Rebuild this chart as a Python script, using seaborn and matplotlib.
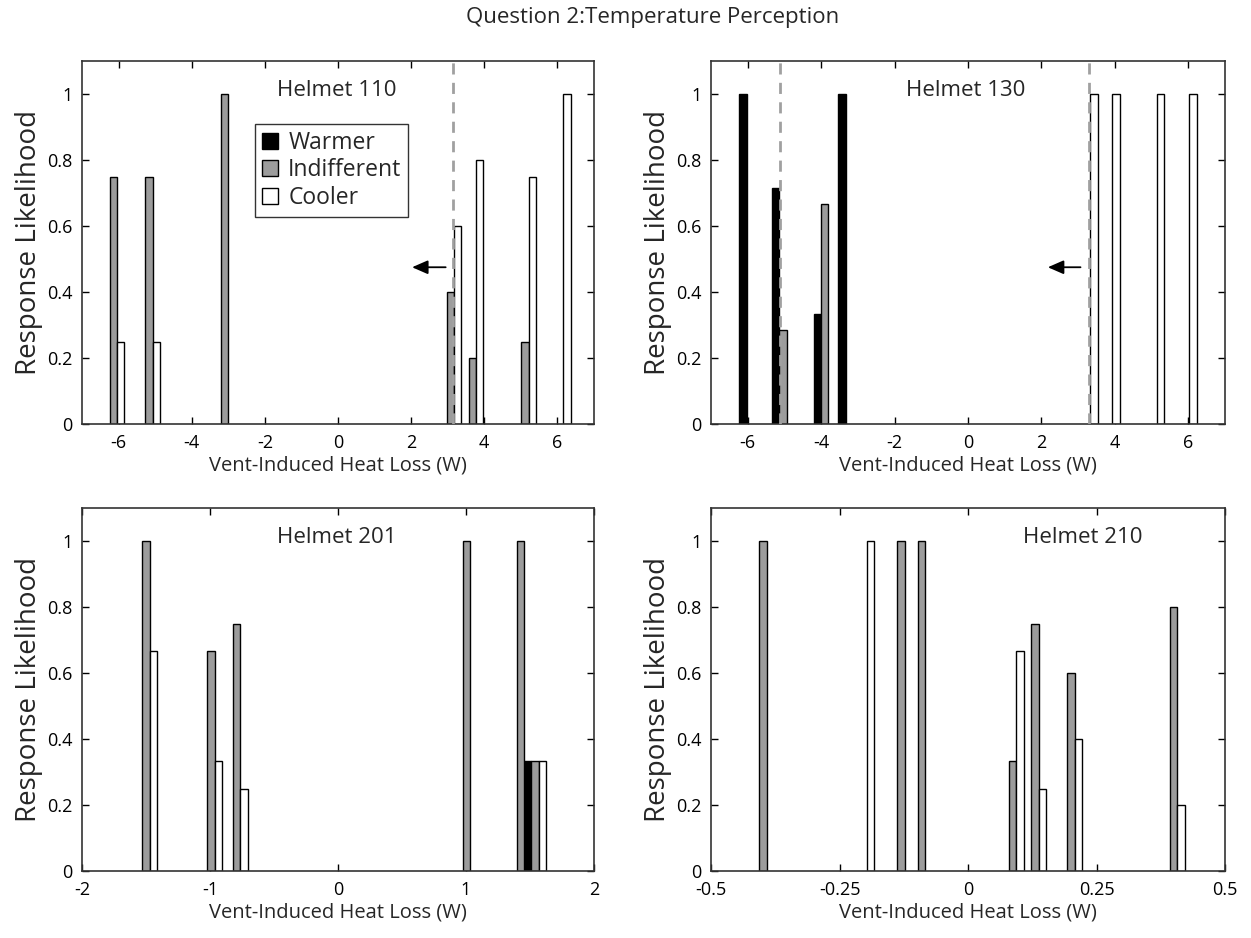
import numpy as np
import matplotlib
matplotlib.use("Agg")
import matplotlib.pyplot as plt
import matplotlib.transforms as mtransforms
from matplotlib.patches import Patch
import seaborn as sns

# ---------------- data ----------------
responses = ["Warmer", "Indifferent", "Cooler"]

x110 = [-6.14, -5.17, -3.11, 3.07, 3.67, 5.11, 6.06]
warm110 = [0, 0, 0, 0, 0, 0, 0]
indiff110 = [0.75, 0.75, 1.0, 0.4, 0.2, 0.25, 0]
cool110 = [0.25, 0.25, 0, 0.6, 0.8, 0.75, 1.0]

x130 = [-5.93, -5.04, -3.90, -3.23, 3.23, 3.83, 5.05, 5.93]
warm130 = [1.0, 0.714, 0.333, 1.0, 0, 0, 0, 0]
indiff130 = [0, 0.286, 0.667, 0, 0, 0, 0, 0]
cool130 = [0, 0, 0, 0, 1.0, 1.0, 1.0, 1.0]

x201 = [-1.50, -0.993, -0.794, 1.003, 1.424, 1.538]
warm201 = [0, 0, 0, 0, 0, 0.333]
indiff201 = [1.0, 0.667, 0.75, 1.0, 1.0, 0.333]
cool201 = [0.667, 0.333, 0.25, 0, 0, 0.333]

x210 = [-0.399, -0.204, -0.130, -0.090, 0.087, 0.130, 0.200, 0.400]
warm210 = [0, 0, 0, 0, 0, 0, 0, 0]
indiff210 = [1.0, 0, 1.0, 1.0, 0.333, 0.75, 0.6, 0.8]
cool210 = [0, 1.0, 0, 0, 0.667, 0.25, 0.4, 0.2]

titles = ["Helmet 110", "Helmet 130", "Helmet 201", "Helmet 210"]
thresholds = [[3.15], [-5.11, 3.3], [], []]
arrow_from = [3.02, 3.14, None, None]
arrow_to = [1.95, 2.1, None, None]

xticks_top = [-6, -4, -2, 0, 2, 4, 6]
xticklabels_top = ["-6", "-4", "-2", "0", "2", "4", "6"]
xticks_201 = [-2, -1, 0, 1, 2]
xticklabels_201 = ["-2", "-1", "0", "1", "2"]
xticks_210 = [-0.5, -0.25, 0, 0.25, 0.5]
xticklabels_210 = ["-0.5", "-0.25", "0", "0.25", "0.5"]
yticks = [0, 0.2, 0.4, 0.6, 0.8, 1.0]
yticklabels = ["0", "0.2", "0.4", "0.6", "0.8", "1"]

# ---------------- style ----------------
sns.set_theme(style="ticks")
plt.rcParams["font.family"] = ["Open Sans", "DejaVu Sans"]
plt.rcParams["axes.unicode_minus"] = False

colors = {"Warmer": "#000000", "Indifferent": "#9c9c9c", "Cooler": "#ffffff"}

fig = plt.figure(figsize=(12.51, 9.38), dpi=100)
W, H = 1251, 938


def make_ax(l, r, t, b):
    return fig.add_axes([l / W, 1 - b / H, (r - l) / W, (b - t) / H])


axes = [
    make_ax(82, 594, 61, 424),
    make_ax(711, 1225, 61, 424),
    make_ax(82, 594, 508, 871),
    make_ax(711, 1225, 508, 871),
]

panels = [
    (x110, warm110, indiff110, cool110, 0.2, (-7, 7), xticks_top, xticklabels_top, 0.38),
    (x130, warm130, indiff130, cool130, 0.2, (-7, 7), xticks_top, xticklabels_top, 0.38),
    (x201, warm201, indiff201, cool201, 0.058, (-2, 2), xticks_201, xticklabels_201, 0.38),
    (x210, warm210, indiff210, cool210, 0.0144, (-0.5, 0.5), xticks_210, xticklabels_210, 0.607),
]

for i, (ax, p) in enumerate(zip(axes, panels)):
    xs, wv, iv, cv, w, xlim, xt, xtl, tx = p
    xs = np.asarray(xs)
    series = {"Warmer": wv, "Indifferent": iv, "Cooler": cv}
    offsets = {"Warmer": -w, "Indifferent": 0.0, "Cooler": w}
    for r in responses:
        vals = np.asarray(series[r], dtype=float)
        m = vals > 0
        ax.bar(xs[m] + offsets[r], vals[m], width=w, color=colors[r],
               edgecolor="black", linewidth=1.0, label=r, zorder=2)
    for th in thresholds[i]:
        ax.axvline(th, color="#a0a0a0", linestyle=(0, (4, 3)), linewidth=2, zorder=3)
    if arrow_from[i] is not None:
        ax.annotate("", xy=(arrow_to[i], 0.475), xytext=(arrow_from[i], 0.475),
                    arrowprops=dict(arrowstyle="-|>,head_length=0.8,head_width=0.35",
                                    color="black", lw=1.3), zorder=4)
    ax.set_xlim(*xlim)
    ax.set_ylim(0, 1.1)
    ax.set_xticks(xt)
    ax.set_xticklabels(xtl)
    ax.set_yticks(yticks)
    ax.set_yticklabels(yticklabels)
    ax.tick_params(direction="in", top=True, right=True, length=5, width=1,
                   labelsize=13, colors="black", pad=7)
    for s in ax.spines.values():
        s.set_color("#333333")
        s.set_linewidth(1.2)
    ax.set_xlabel("Vent-Induced Heat Loss (W)", fontsize=14.5, labelpad=3)
    ax.set_ylabel("Response Likelihood", fontsize=20, labelpad=3)
    trans = mtransforms.blended_transform_factory(ax.transAxes, ax.transData)
    ax.text(tx, 1.012, titles[i], transform=trans, fontsize=16, ha="left", va="center")
    ax.grid(False)

handles = [Patch(facecolor=colors[r], edgecolor="black", linewidth=1.0) for r in responses]
leg = axes[0].legend(handles, responses, loc="upper left",
                     bbox_to_anchor=((255 - 82) / 512, (424 - 124) / 363),
                     frameon=True, fancybox=False, fontsize=16.5,
                     handlelength=0.7, handleheight=0.7, handletextpad=0.45,
                     borderpad=0.3, labelspacing=0.15, borderaxespad=0)
leg.get_frame().set_edgecolor("black")
leg.get_frame().set_linewidth(1.0)

fig.text(653 / W, 1 - 18 / H, "Question 2:Temperature Perception", ha="center",
         va="center", fontsize=16)

fig.savefig("out.png", dpi=100)
